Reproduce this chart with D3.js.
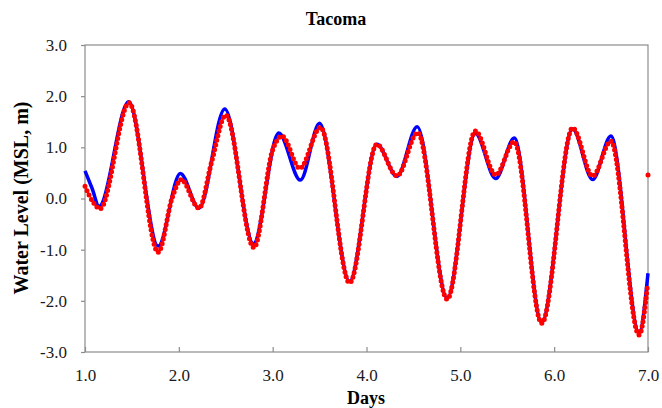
<!DOCTYPE html>
<html><head><meta charset="utf-8">
<script src="https://cdn.jsdelivr.net/npm/d3@7"></script>
<style>
html,body{margin:0;padding:0;background:#fff;}
svg{display:block;}
</style></head>
<body>
<svg id="chart" width="662" height="408"></svg>
<script>
// ---- data ----
const title = "Tacoma";
const xLabel = "Days";
const yLabel = "Water Level (MSL, m)";
const xTicks = [1, 2, 3, 4, 5, 6, 7];
const yTicks = [-3, -2, -1, 0, 1, 2, 3];

const blueDays = [1.00, 1.075, 1.15, 1.466, 1.78, 2.016, 2.215, 2.49, 2.795, 3.064, 3.295, 3.50, 3.82, 4.11, 4.325, 4.54, 4.86, 5.16, 5.377, 5.575, 5.867, 6.197, 6.41, 6.605, 6.905, 7.00];
const blueLevel = [0.54, 0.20, -0.15, 1.89, -0.93, 0.49, -0.19, 1.75, -0.88, 1.28, 0.36, 1.47, -1.62, 1.06, 0.43, 1.40, -1.95, 1.27, 0.39, 1.18, -2.42, 1.36, 0.37, 1.22, -2.62, -1.46];

const redDays = [1.00, 1.09, 1.16, 1.47, 1.78, 1.93, 2.025, 2.215, 2.35, 2.50, 2.80, 3.00, 3.10, 3.29, 3.51, 3.82, 4.11, 4.325, 4.545, 4.86, 5.16, 5.377, 5.575, 5.867, 6.197, 6.41, 6.605, 6.905, 6.995];
const redLevel = [0.24, -0.08, -0.20, 1.87, -1.05, 0.02, 0.37, -0.19, 0.72, 1.63, -0.96, 0.95, 1.22, 0.59, 1.39, -1.65, 1.06, 0.44, 1.29, -1.97, 1.32, 0.46, 1.11, -2.44, 1.38, 0.44, 1.12, -2.67, -1.69];

const strayDay = [7.0];
const strayLevel = [0.46];

// ---- layout ----
const svg = d3.select("#chart");
const x = d3.scaleLinear().domain([1, 7]).range([85, 648]);
const y = d3.scaleLinear().domain([-3, 3]).range([352, 45]);
const font = "'Liberation Serif','Times New Roman',serif";
const fmt = v => d3.format(".1f")(v).replace("\u2212", "-");

// frame
svg.append("rect")
  .attr("x", x(1)).attr("y", y(3))
  .attr("width", x(7) - x(1)).attr("height", y(-3) - y(3))
  .attr("fill", "none").attr("stroke", "#8c8c8c").attr("stroke-width", 1.2);

// axes
const xAxis = svg.append("g").attr("transform", `translate(0,${y(-3)})`)
  .call(d3.axisBottom(x).tickValues(xTicks).tickFormat(fmt).tickSizeInner(-5).tickSizeOuter(0));
const yAxis = svg.append("g").attr("transform", `translate(${x(1)},0)`)
  .call(d3.axisLeft(y).tickValues(yTicks).tickFormat(fmt).tickSizeInner(4).tickSizeOuter(0).tickPadding(14));
[xAxis, yAxis].forEach(g => {
  g.select(".domain").remove();
  g.selectAll(".tick line").attr("stroke", "#8c8c8c").attr("stroke-width", 1.2);
  g.selectAll("text").attr("font-family", font).attr("font-size", 17).attr("fill", "#1a1a1a");
});
xAxis.selectAll("text").attr("y", 29).attr("dy", 0);

// series
const blueData = blueDays.map((d, i) => [d, blueLevel[i]]);
const redData = redDays.map((d, i) => [d, redLevel[i]]);
const line = d3.line().x(d => x(d[0])).y(d => y(d[1])).curve(d3.curveMonotoneX);

svg.append("path").datum(blueData).attr("d", line)
  .attr("fill", "none").attr("stroke", "#0000ff").attr("stroke-width", 3.5).attr("stroke-linejoin", "round");

svg.append("path").datum(redData).attr("d", line)
  .attr("fill", "none").attr("stroke", "#ff0000").attr("stroke-width", 5)
  .attr("stroke-linecap", "round").attr("stroke-dasharray", "0 4.8");

svg.selectAll("circle.stray").data(strayDay.map((d, i) => [d, strayLevel[i]])).enter()
  .append("circle").attr("class", "stray")
  .attr("cx", d => x(d[0])).attr("cy", d => y(d[1])).attr("r", 2.5).attr("fill", "#ff0000");

// titles
svg.append("text").attr("x", 336).attr("y", 25).attr("text-anchor", "middle")
  .attr("font-family", font).attr("font-weight", "bold").attr("font-size", 18).text(title);
svg.append("text").attr("x", 366).attr("y", 404).attr("text-anchor", "middle")
  .attr("font-family", font).attr("font-weight", "bold").attr("font-size", 18).text(xLabel);
svg.append("text").attr("transform", "translate(28,198) rotate(-90)").attr("text-anchor", "middle")
  .attr("font-family", font).attr("font-weight", "bold").attr("font-size", 20).text(yLabel);
</script>
</body></html>
